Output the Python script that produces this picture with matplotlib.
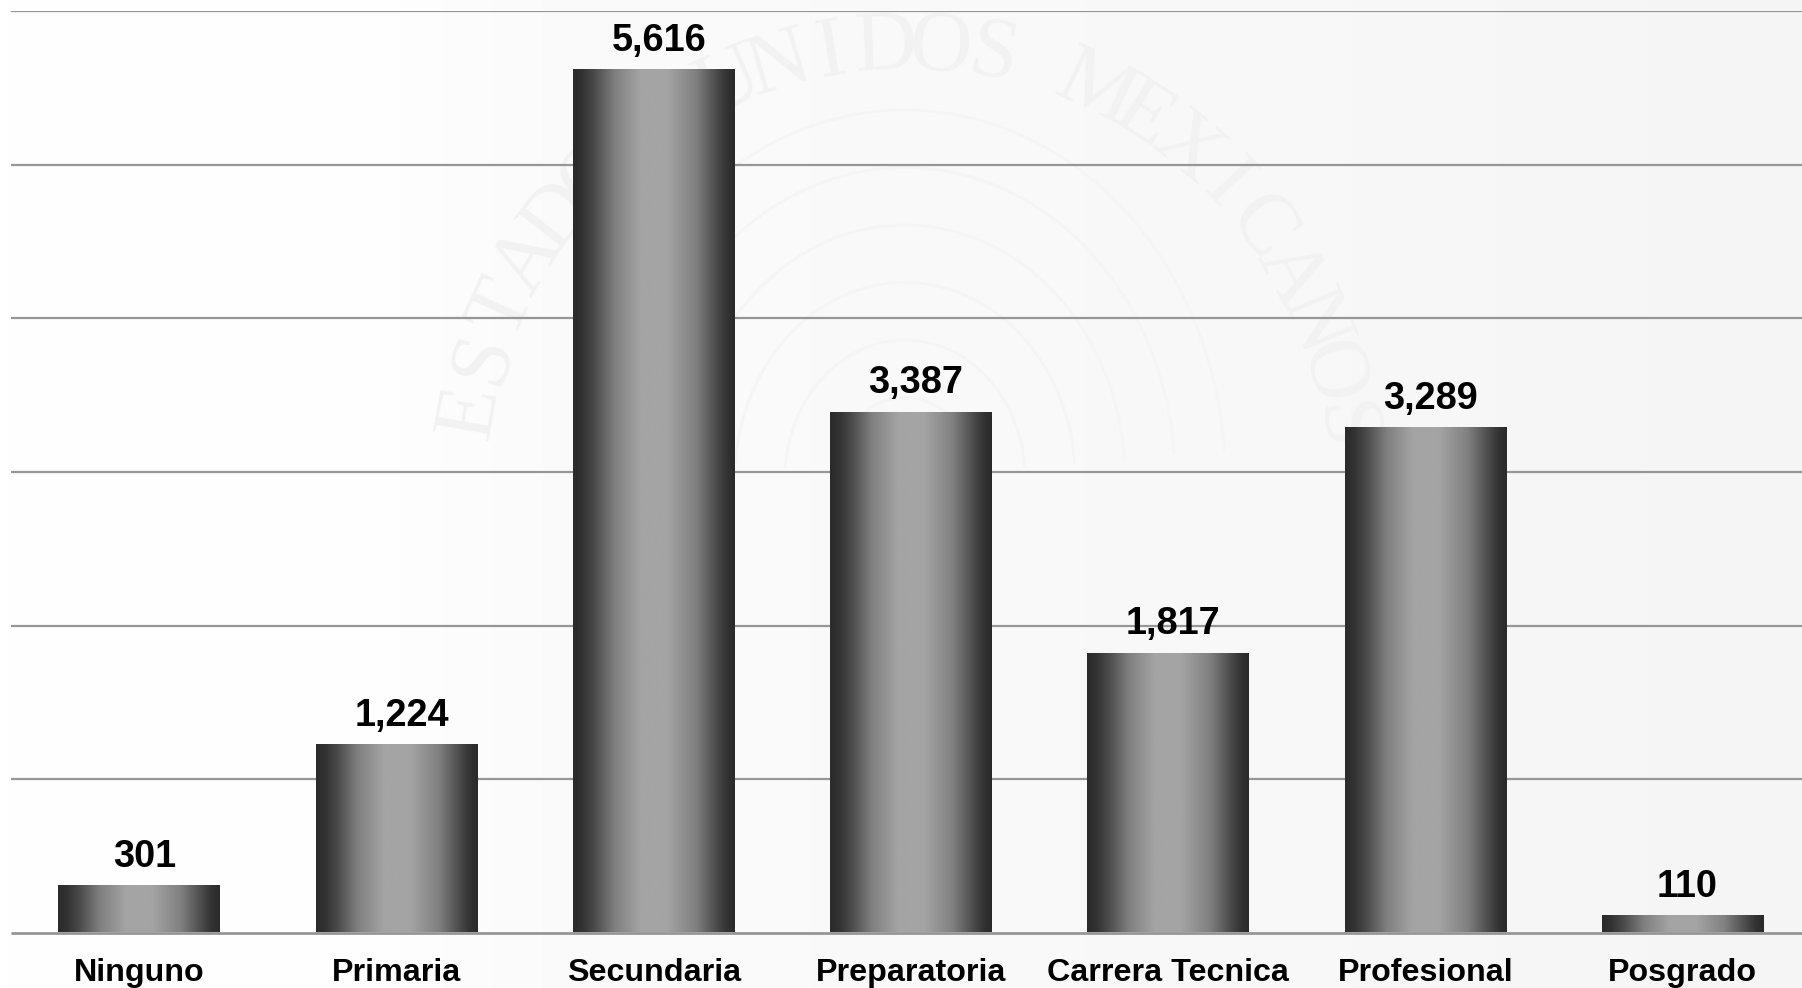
"""Bar chart by education level, gradient bars over a faint watermark."""

import numpy as np
import matplotlib
matplotlib.use("Agg")
import matplotlib.pyplot as plt
from matplotlib.colors import LinearSegmentedColormap
from matplotlib.patches import Arc

CATEGORIES = ["Ninguno", "Primaria", "Secundaria", "Preparatoria",
              "Carrera Tecnica", "Profesional", "Posgrado"]
VALUES = [301, 1224, 5616, 3387, 1817, 3289, 110]
GRID_VALUES = [1000, 2000, 3000, 4000, 5000, 6000]
WATERMARK = "ESTADOS UNIDOS MEXICANOS"

W, H = 1802, 988
YMAX = 6000
BASE_PX, TOP_PX = 932.5, 11.5      # y pixels of value 0 and of value YMAX
CENTER0_PX, STEP_PX = 139.5, 257.2

BAR_CMAP = LinearSegmentedColormap.from_list("bar", [
    (0.0, "#2a2a2a"), (0.06, "#333333"), (0.13, "#4a4a4a"), (0.26, "#808080"),
    (0.42, "#a4a4a4"), (0.58, "#a4a4a4"), (0.76, "#808080"), (0.89, "#4a4a4a"),
    (0.95, "#333333"), (1.0, "#2a2a2a")])
BACK_CMAP = LinearSegmentedColormap.from_list(
    "back", [(0, "#ffffff"), (0.22, "#fefefe"), (0.3, "#fbfbfb"),
             (0.75, "#f8f8f8"), (1, "#f5f5f5")])


def draw_watermark(ax):
    # this axes is in pixels (y up), separate from the data axes
    cx, cy, r = 905, 500, 440
    angles = np.linspace(170, 8, len(WATERMARK))
    for ch, a in zip(WATERMARK, angles):
        t = np.deg2rad(a)
        ax.text(cx + r * np.cos(t), cy + r * np.sin(t), ch, rotation=a - 90,
                ha="center", va="center", fontsize=62, color="#f2f2f2",
                family="Liberation Serif")
    for rad in (70, 120, 170, 220, 270, 320):
        ax.add_patch(Arc((cx, cy + 10), 2 * rad, 2 * rad * 1.15, theta1=5, theta2=175,
                         color="#f5f5f5", lw=2))


def main():
    plt.rcParams["font.family"] = ["Liberation Sans", "DejaVu Sans"]
    fig = plt.figure(figsize=(W / 100, H / 100), dpi=100)

    back = fig.add_axes([0, 0, 1, 1], zorder=0)
    back.imshow(np.linspace(0, 1, 256)[None, :], cmap=BACK_CMAP, aspect="auto",
                extent=(0, W, 0, H), vmin=0, vmax=1)
    draw_watermark(back)
    back.set_xlim(0, W)
    back.set_ylim(0, H)
    back.axis("off")

    ax = fig.add_axes([0, (H - BASE_PX) / H, 1, (BASE_PX - TOP_PX) / H], zorder=1)
    ax.patch.set_alpha(0)
    x = np.arange(len(CATEGORIES))
    xlim = (-CENTER0_PX / STEP_PX, (W - CENTER0_PX) / STEP_PX)

    ax.hlines(GRID_VALUES, -0.5, xlim[1], color="#969696", lw=1.6, zorder=1)
    ax.hlines(0, -0.5, xlim[1], color="#969696", lw=2, zorder=3, clip_on=False)

    bars = ax.bar(x, VALUES, width=162 / STEP_PX, color="none", zorder=2)
    gradient = np.linspace(0, 1, 256)[None, :]
    for rect in bars:
        ax.imshow(gradient, cmap=BAR_CMAP, aspect="auto", zorder=2, vmin=0, vmax=1,
                  extent=(rect.get_x(), rect.get_x() + rect.get_width(), 0, rect.get_height()))
    ax.set_xlim(xlim)
    ax.set_ylim(0, YMAX)

    for xi, v in zip(x, VALUES):
        ax.annotate(f"{v:,}", (xi, v), xytext=(3.5, 8), textcoords="offset points",
                    ha="center", va="bottom", fontsize=27.3, fontweight="bold",
                    color="black", zorder=4)

    ax.set_xticks(x, CATEGORIES, fontsize=23.2, fontweight="bold", color="black")
    ax.tick_params(axis="x", length=0, pad=18)
    ax.set_yticks([])
    for s in ax.spines.values():
        s.set_visible(False)

    fig.savefig("out.png", dpi=100)


if __name__ == "__main__":
    main()
